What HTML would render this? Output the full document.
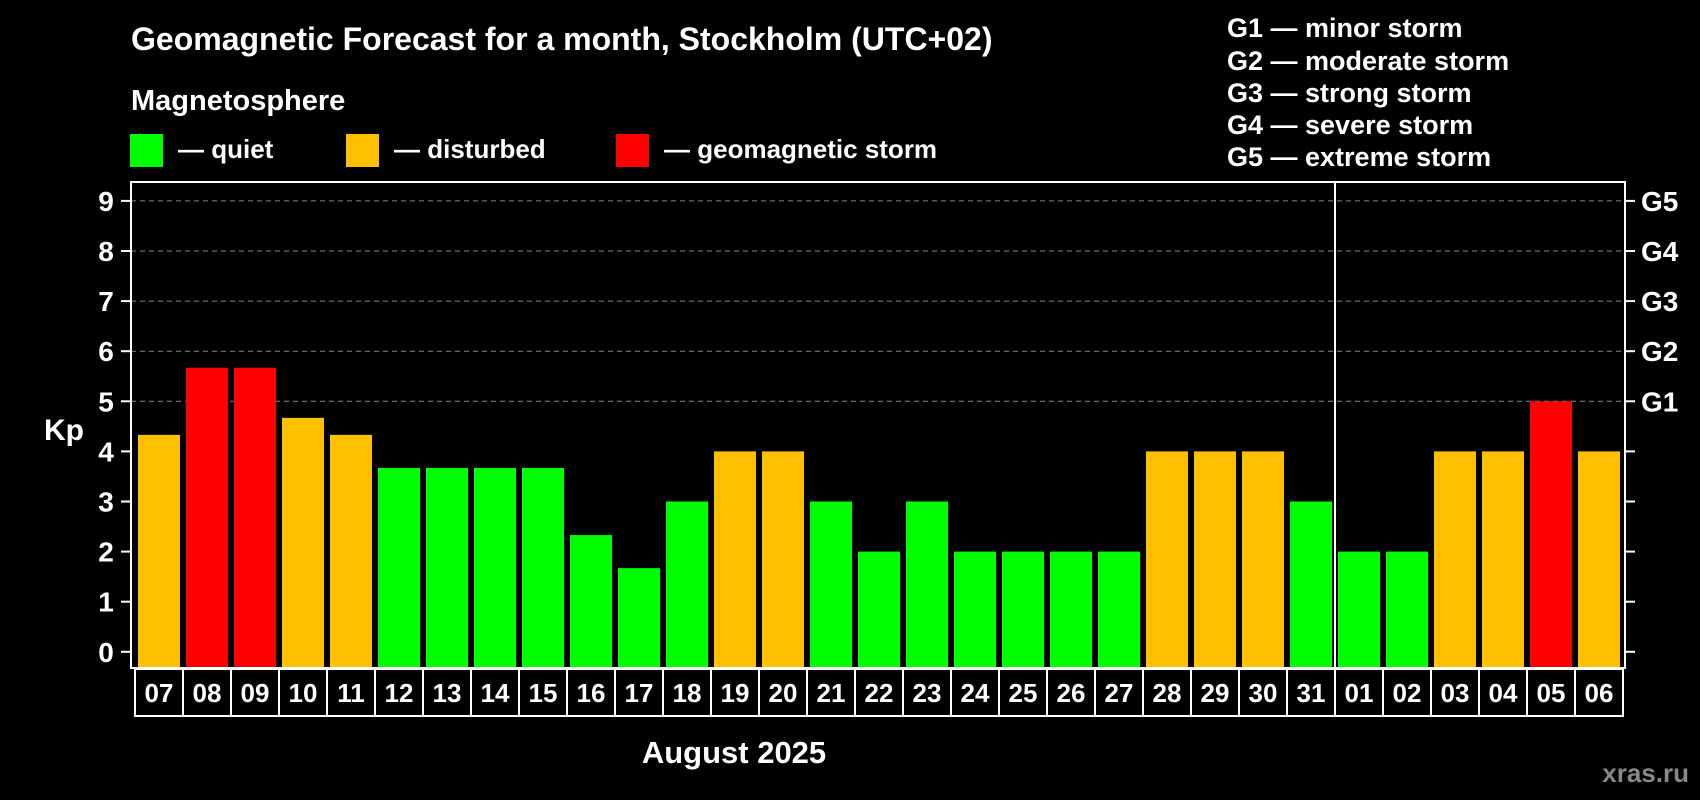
<!DOCTYPE html>
<html><head><meta charset="utf-8"><style>
html,body{margin:0;padding:0;background:#000;}
svg{display:block;font-family:"Liberation Sans",Arial,sans-serif;font-weight:bold;}
</style></head><body>
<svg id="chart" width="1700" height="800" viewBox="0 0 1700 800" xmlns="http://www.w3.org/2000/svg">
<rect width="1700" height="800" fill="#000"/>
<text x="131" y="50" fill="#fff" font-size="32">Geomagnetic Forecast for a month, Stockholm (UTC+02)</text>
<text x="131" y="110" fill="#fff" font-size="29">Magnetosphere</text>
<g>
<rect x="130" y="134" width="33" height="33" fill="#00ff00"/>
<text x="178" y="158" fill="#fff" font-size="26">— quiet</text></g>
<g>
<rect x="346" y="134" width="33" height="33" fill="#ffc000"/>
<text x="394" y="158" fill="#fff" font-size="26">— disturbed</text></g>
<g>
<rect x="616" y="134" width="33" height="33" fill="#ff0000"/>
<text x="664" y="158" fill="#fff" font-size="26">— geomagnetic storm</text></g>
<g fill="#fff" font-size="27">
<text x="1227" y="37">G1 — minor storm</text>
<text x="1227" y="70">G2 — moderate storm</text>
<text x="1227" y="102">G3 — strong storm</text>
<text x="1227" y="134">G4 — severe storm</text>
<text x="1227" y="166">G5 — extreme storm</text>
</g>
<text x="64" y="440" fill="#fff" font-size="30" text-anchor="middle">Kp</text>
<text x="734" y="763" fill="#fff" font-size="31" text-anchor="middle">August 2025</text>
<text x="1689" y="782" fill="#888" font-size="26" text-anchor="end">xras.ru</text>
<g id="grid"></g><g id="bars"></g><g id="axes"></g><g id="dates"></g>
</svg>
<script>
const days = ["07","08","09","10","11","12","13","14","15","16","17","18","19","20","21","22","23","24","25","26","27","28","29","30","31","01","02","03","04","05","06"];
const kp = [4.33,5.67,5.67,4.67,4.33,3.67,3.67,3.67,3.67,2.33,1.67,3,4,4,3,2,3,2,2,2,2,4,4,4,3,2,2,4,4,5,4];
const yTicks = [0,1,2,3,4,5,6,7,8,9];
const gLabels = ["G1","G2","G3","G4","G5"];
const gLevels = [5,6,7,8,9];
const monthBreakIndex = 25;

const NS="http://www.w3.org/2000/svg";
const plotLeft=131,plotRight=1625,plotTop=182,plotBottom=668;
const y0=651.8,unit=50.1;
const yScale=v=>y0-v*unit;
const cellX0=135,pitch=48;
const xScale=i=>cellX0+i*pitch;
function mk(tag,attrs,parent){const e=document.createElementNS(NS,tag);for(const k in attrs)e.setAttribute(k,attrs[k]);parent.appendChild(e);return e;}
const grid=document.getElementById('grid'),barsG=document.getElementById('bars'),axes=document.getElementById('axes'),dates=document.getElementById('dates');
gLevels.forEach(v=>{
  const l=mk('line',{x1:plotLeft,x2:plotRight,y1:yScale(v),y2:yScale(v),stroke:'#888','stroke-width':1,'stroke-dasharray':'5,4'},grid);
  
  
});
kp.forEach((v,i)=>{
  const c=v>=5?'#ff0000':(v>=4?'#ffc000':'#00ff00');
  const r=mk('rect',{x:xScale(i)+3,y:yScale(v),width:42,height:plotBottom-yScale(v),fill:c},barsG);
  
  
});
const frame=mk('rect',{x:plotLeft,y:plotTop,width:plotRight-plotLeft,height:plotBottom-plotTop,fill:'none',stroke:'#fff','stroke-width':2},axes);


const sep=mk('line',{x1:xScale(monthBreakIndex),x2:xScale(monthBreakIndex),y1:plotTop,y2:plotBottom,stroke:'#fff','stroke-width':2},axes);


yTicks.forEach(v=>{
  const y=yScale(v);
  mk('line',{x1:plotLeft-10,x2:plotLeft,y1:y,y2:y,stroke:'#fff','stroke-width':2},axes);
  mk('line',{x1:plotRight,x2:plotRight+10,y1:y,y2:y,stroke:'#fff','stroke-width':2},axes);
  const t=mk('text',{x:106,y:y+10,fill:'#fff','font-size':28,'text-anchor':'middle'},axes);
  t.textContent=v;
  
  
});
gLabels.forEach((g,i)=>{
  const t=mk('text',{x:1641,y:yScale(gLevels[i])+10,fill:'#fff','font-size':28},axes);
  t.textContent=g;
  
  
});
days.forEach((d,i)=>{
  const r=mk('rect',{x:xScale(i),y:669,width:pitch,height:47,fill:'#000',stroke:'#fff','stroke-width':2},dates);
  
  
  const t=mk('text',{x:xScale(i)+pitch/2,y:702,fill:'#fff','font-size':26,'text-anchor':'middle'},dates);
  t.textContent=d;
  
  
});
</script>
</body></html>
